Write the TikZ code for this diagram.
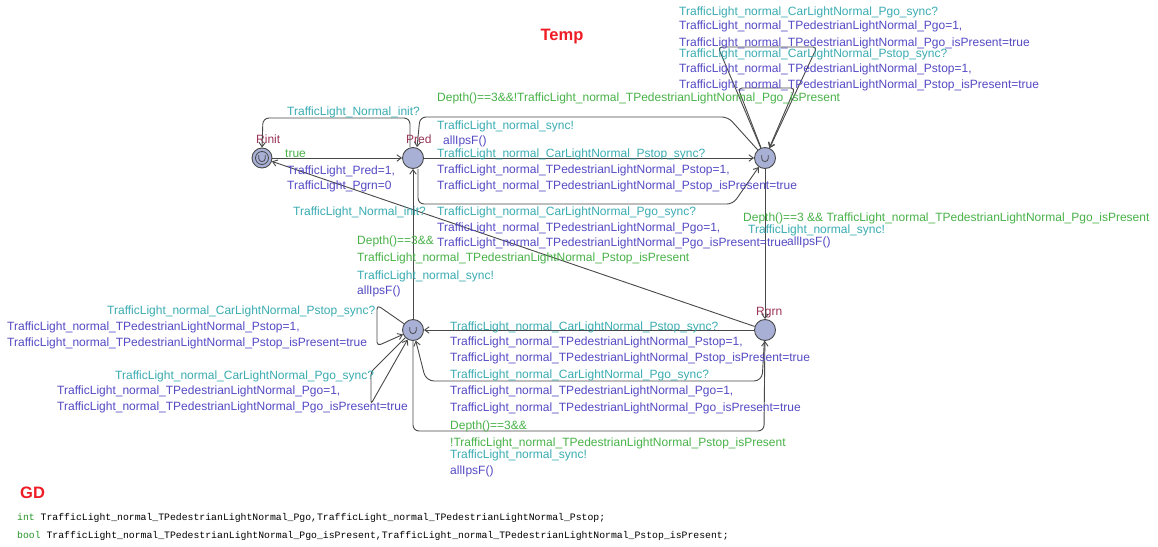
\documentclass[tikz,border=0pt]{standalone}
\usepackage{fontspec}
\setmainfont{Liberation Sans}
\setmonofont{Liberation Mono}
\usepackage{tikz}
\usetikzlibrary{arrows.meta,positioning}
\definecolor{guardc}{RGB}{72,178,72}
\definecolor{syncc}{RGB}{58,172,178}
\definecolor{updc}{RGB}{84,74,196}
\definecolor{locc}{RGB}{156,52,86}
\definecolor{locfill}{RGB}{168,176,214}
\definecolor{edgec}{RGB}{72,72,72}
\definecolor{titlec}{RGB}{238,28,36}
\definecolor{kwc}{RGB}{40,150,40}
\newcommand{\tpl}{TrafficLight\_normal\_TPedestrianLightNormal\_}
\newcommand{\tcl}{TrafficLight\_normal\_CarLightNormal\_}
\newcommand{\urgmark}[1]{\draw[-,draw=edgec,line width=0.8pt] ([shift={(-3.3,-3)}]#1.center) -- ++(0,3.3) arc (180:0:3.3) -- ++(0,-3.3);}

\begin{document}
\begin{tikzpicture}[x=1pt,y=-1pt,>={Straight Barb[length=4.5pt,width=6.5pt]},
  loc/.style={circle,draw=edgec,fill=locfill,line width=0.9pt,minimum size=21pt,inner sep=0pt},
  edge/.style={->,draw=edgec,line width=0.9pt,rounded corners=6pt},
  lbl/.style={anchor=base west,inner sep=0pt,font=\fontsize{12}{14}\selectfont},
  grd/.style={lbl,text=guardc},
  syn/.style={lbl,text=syncc},
  upd/.style={lbl,text=updc},
  lname/.style={lbl,text=locc},
  ttl/.style={inner sep=0pt,text=titlec,font=\fontsize{16.5}{18}\selectfont\bfseries}]
\useasboundingbox (0,0) rectangle (1158,546);
\fill[white] (0,0) rectangle (1158,546);

% locations
\node[loc,minimum size=20pt] (rinit) at (262,158) {};
\draw[draw=edgec,line width=0.8pt] (rinit.center) circle (6.5pt);
\urgmark{rinit}
\node[loc] (pred) at (413,158) {};
\node[loc] (uone) at (765,158) {};
\urgmark{uone}
\node[loc] (rgrn) at (765,330) {};
\node[loc] (utwo) at (413,330) {};
\urgmark{utwo}

\node[lname] (nrinit) at (256,143) {Rinit};
\node[lname] (npred) at (406,143) {Pred};
\node[lname] (nrgrn) at (756,315) {Rgrn};

% edges
\draw[edge] (rinit) -- (pred);
\draw[edge] ([xshift=-3pt]pred.north) -- (410,118) -- (263,118) -- (rinit.north);
\draw[edge] (uone) -- (728,117) -- (420,117) -- ([xshift=4pt]pred.north);
\draw[edge] (pred) -- (uone);
\draw[edge] ([xshift=5pt]pred.south) -- (418,204) -- (733,204) -- (uone);
\draw[edge,rounded corners=4pt] (uone) -- (718,47) -- (817,47) -- (uone);
\draw[edge,rounded corners=4pt] (uone) -- (738,88) -- (795,88) -- (uone);
\draw[edge] (uone) -- (rgrn);
\draw[edge] (rgrn) -- (rinit);
\draw[edge] (rgrn) -- (utwo);
\draw[edge,rounded corners=8pt] (rgrn) -- (762,381) -- (426,381) -- (utwo);
\draw[edge] (utwo) -- (413,431) -- (764,431) -- (rgrn);
\draw[edge] (utwo) -- (pred);
\draw[edge,rounded corners=4pt] (utwo) -- (377,305) -- (377,346) -- (utwo);
\draw[edge,rounded corners=3pt] (utwo) -- (371,372) -- (371,404) -- (utwo);

% labels Rinit -- Pred
\node[syn] (linit) at (287,115) {TrafficLight\_Normal\_init?};
\node[grd] (ltrue) at (285,157) {true};
\node[upd] (lpred) at (287,174) {TrafficLight\_Pred=1,};
\node[upd] (lpgrn) at (287,189) {TrafficLight\_Pgrn=0};

% labels Pred -- Uone
\node[grd] (gback) at (437,101) {Depth()==3\&\&!\tpl Pgo\_isPresent};
\node[syn] (sback) at (437,129) {TrafficLight\_normal\_sync!};
\node[upd] (uback) at (443,144) {allIpsF()};
\node[syn] (sstop) at (437,157) {\tcl Pstop\_sync?};
\node[upd] (ustopa) at (437,173) {\tpl Pstop=1,};
\node[upd] (ustopb) at (437,189) {\tpl Pstop\_isPresent=true};
\node[syn] (sgo) at (437,215) {\tcl Pgo\_sync?};
\node[upd] (ugoa) at (437,231) {\tpl Pgo=1,};
\node[upd] (ugob) at (437,246) {\tpl Pgo\_isPresent=true};

% self loops on Uone
\node[syn] (sla) at (679,15) {\tcl Pgo\_sync?};
\node[upd] (ulaa) at (679,29) {\tpl Pgo=1,};
\node[upd] (ulab) at (679,46) {\tpl Pgo\_isPresent=true};
\node[syn] (slb) at (679,57) {\tcl Pstop\_sync?};
\node[upd] (ulba) at (679,72) {\tpl Pstop=1,};
\node[upd] (ulbb) at (679,88) {\tpl Pstop\_isPresent=true};

% Uone -- Rgrn
\node[grd] (gdown) at (743,221) {Depth()==3 \&\& \tpl Pgo\_isPresent};
\node[syn] (sdown) at (748,233) {TrafficLight\_normal\_sync!};
\node[upd] (udown) at (787,245) {allIpsF()};

% Rgrn -- Rinit
\node[syn] (lreset) at (293,215) {TrafficLight\_Normal\_init?};

% Utwo -- Pred
\node[grd] (gupa) at (357,244) {Depth()==3\&\&};
\node[grd] (gupb) at (357,261) {\tpl Pstop\_isPresent};
\node[syn] (sup) at (357,279) {TrafficLight\_normal\_sync!};
\node[upd] (uup) at (357,294) {allIpsF()};

% self loops on Utwo
\node[syn] (slc) at (107,314) {\tcl Pstop\_sync?};
\node[upd] (ulca) at (7,330) {\tpl Pstop=1,};
\node[upd] (ulcb) at (7,346) {\tpl Pstop\_isPresent=true};
\node[syn] (sld) at (115,379) {\tcl Pgo\_sync?};
\node[upd] (ulda) at (57,394) {\tpl Pgo=1,};
\node[upd] (uldb) at (57,410) {\tpl Pgo\_isPresent=true};

% Rgrn -- Utwo
\node[syn] (sstopb) at (450,330) {\tcl Pstop\_sync?};
\node[upd] (ustopc) at (450,345) {\tpl Pstop=1,};
\node[upd] (ustopd) at (450,361) {\tpl Pstop\_isPresent=true};
\node[syn] (sgob) at (450,378) {\tcl Pgo\_sync?};
\node[upd] (ugoc) at (450,394) {\tpl Pgo=1,};
\node[upd] (ugod) at (450,411) {\tpl Pgo\_isPresent=true};

% Utwo -- Rgrn
\node[grd] (gbota) at (450,429) {Depth()==3\&\&};
\node[grd] (gbotb) at (450,446) {!\tpl Pstop\_isPresent};
\node[syn] (sbot) at (450,458) {TrafficLight\_normal\_sync!};
\node[upd] (ubot) at (450,474) {allIpsF()};

% titles and declarations
\node[ttl] (temp) at (562,37) {Temp};
\node[ttl,anchor=west] (gd) at (20,493) {GD};
\node[anchor=base west,inner sep=0pt,font=\fontsize{9.8}{11}\ttfamily] (decla) at (17,520.5)
  {\textcolor{kwc}{int} \tpl Pgo,\tpl Pstop;};
\node[anchor=base west,inner sep=0pt,font=\fontsize{9.8}{11}\ttfamily] (declb) at (17,538.5)
  {\textcolor{kwc}{bool} \tpl Pgo\_isPresent,\tpl Pstop\_isPresent;};
\end{tikzpicture}
\end{document}
